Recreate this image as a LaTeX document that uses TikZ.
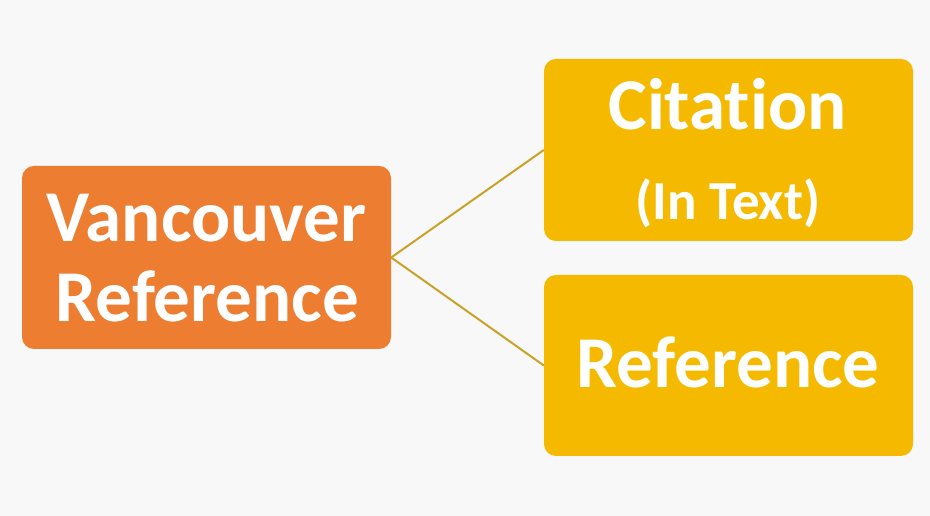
\documentclass[tikz,border=0pt]{standalone}
\usepackage{fontspec}
\setmainfont{Carlito}[Ligatures=NoCommon]
\definecolor{bgpaper}{HTML}{F8F8F8}
\definecolor{vorange}{HTML}{ED7D31}
\definecolor{vgold}{HTML}{F5BA00}
\definecolor{vline}{HTML}{C9A227}
\begin{document}
\begin{tikzpicture}[x=1pt, y=1pt]
    \tikzset{box/.style={rectangle, rounded corners=12pt, minimum width=369pt,
                         inner sep=0pt},
             lbl/.style={text=white, font=\fontsize{73}{80}\selectfont\bfseries,
                         inner sep=0pt, anchor=base}}
    \fill[bgpaper] (0,0) rectangle (930,516);
    \useasboundingbox (0,0) rectangle (930,516);
    \node[box, fill=vorange, minimum height=183pt] (vanc) at (206.5,258.5) {};
    \node[box, fill=vgold, minimum height=182pt] (cite) at (728.5,366) {};
    \node[box, fill=vgold, minimum height=181pt] (refr) at (728.5,150.5) {};
    \node[lbl] (vanc1) at (206.5,274) {Vancouver};
    \node[lbl] (vanc2) at (207.5,194) {Reference};
    \node[lbl] (cite1) at (727.5,386) {Citation};
    \node[lbl, font=\fontsize{55}{60}\selectfont\bfseries] (cite2) at (728,296) {(In Text)};
    \node[lbl] (refr1) at (728,128) {Reference};
    \foreach \t in {cite, refr}
      \draw[vline, line width=2pt] (vanc.east) -- (\t.west);
\end{tikzpicture}
\end{document}
